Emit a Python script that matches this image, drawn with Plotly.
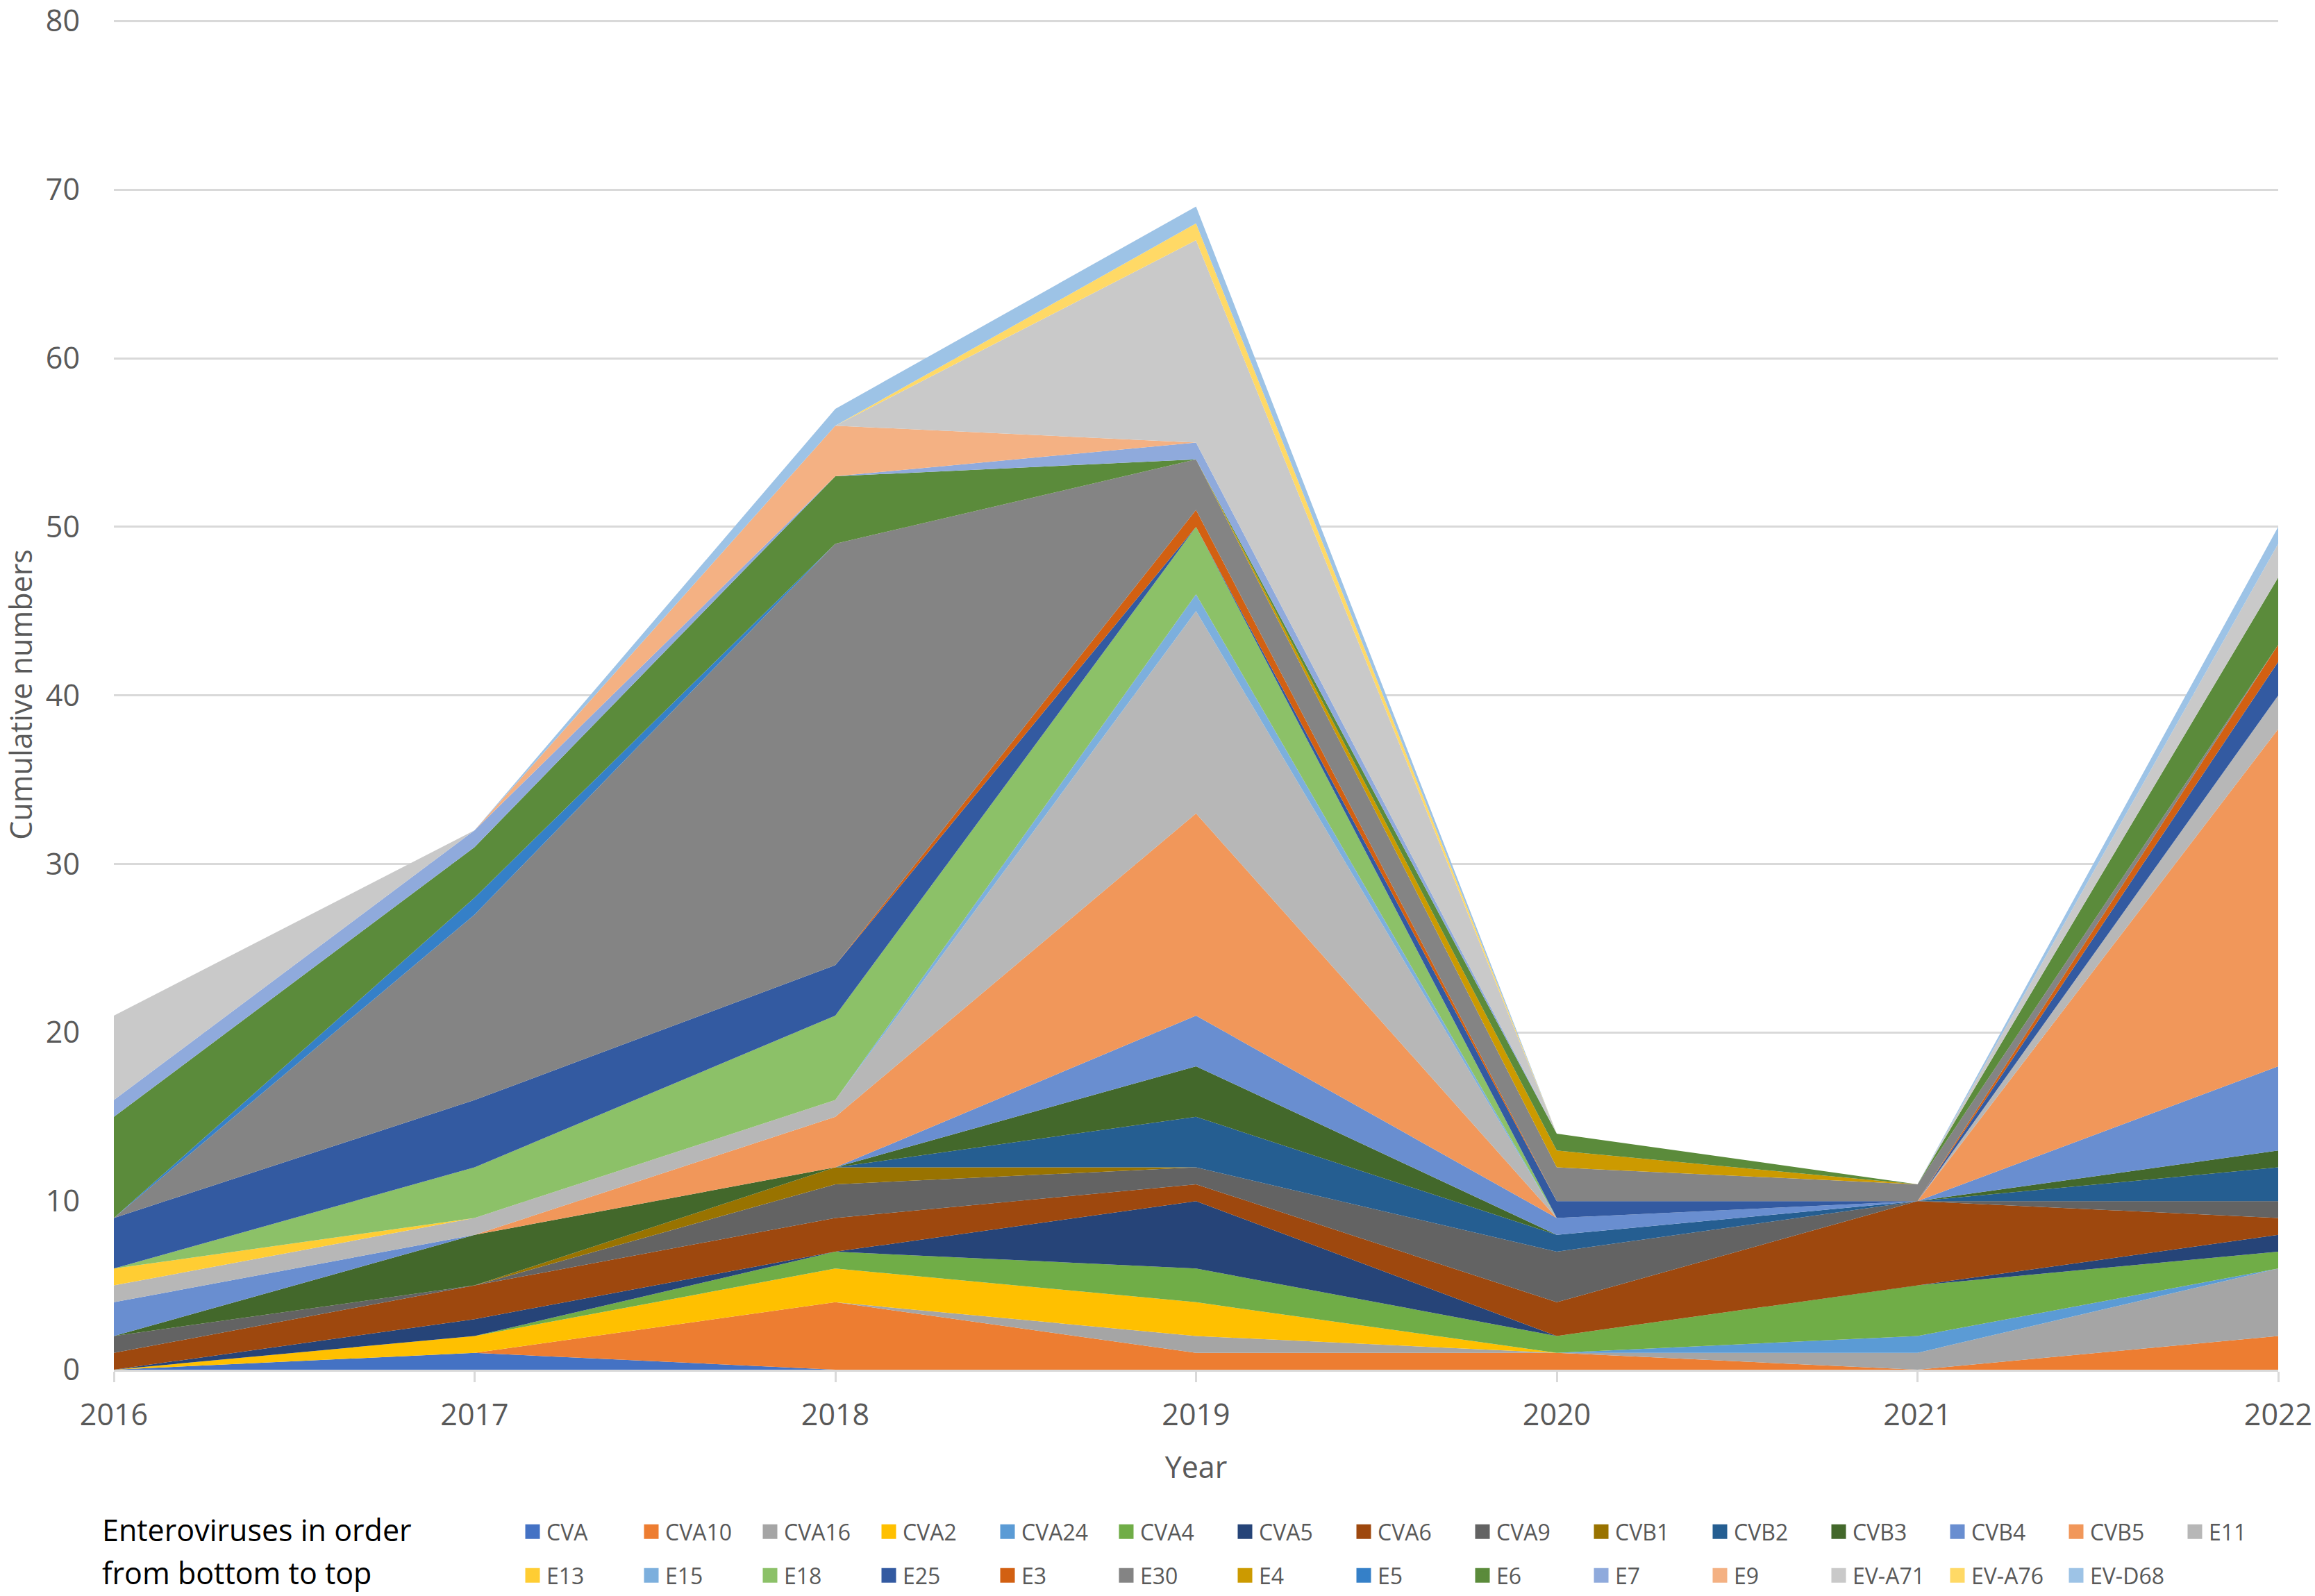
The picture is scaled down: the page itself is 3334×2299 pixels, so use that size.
import plotly.graph_objects as go

# ---------------- data ----------------
years = [2016, 2017, 2018, 2019, 2020, 2021, 2022]

cva    = [0, 1, 0, 0, 0, 0, 0]
cva10  = [0, 0, 4, 1, 1, 0, 2]
cva16  = [0, 0, 0, 1, 0, 1, 4]
cva2   = [0, 1, 2, 2, 0, 0, 0]
cva24  = [0, 0, 0, 0, 0, 1, 0]
cva4   = [0, 0, 1, 2, 1, 3, 1]
cva5   = [0, 1, 0, 4, 0, 0, 1]
cva6   = [1, 2, 2, 1, 2, 5, 1]
cva9   = [1, 0, 2, 1, 3, 0, 1]
cvb1   = [0, 0, 1, 0, 0, 0, 0]
cvb2   = [0, 0, 0, 3, 1, 0, 2]
cvb3   = [0, 3, 0, 3, 0, 0, 1]
cvb4   = [2, 0, 0, 3, 1, 0, 5]
cvb5   = [0, 0, 3, 12, 0, 0, 20]
e11    = [1, 1, 1, 12, 0, 0, 2]
e13    = [1, 0, 0, 0, 0, 0, 0]
e15    = [0, 0, 0, 1, 0, 0, 0]
e18    = [0, 3, 5, 4, 0, 0, 0]
e25    = [3, 4, 3, 0, 1, 0, 2]
e3     = [0, 0, 0, 1, 0, 0, 1]
e30    = [0, 11, 25, 3, 2, 1, 0]
e4     = [0, 0, 0, 0, 1, 0, 0]
e5     = [0, 1, 0, 0, 0, 0, 0]
e6     = [6, 3, 4, 0, 1, 0, 4]
e7     = [1, 1, 0, 1, 0, 0, 0]
e9     = [0, 0, 3, 0, 0, 0, 0]
ev_a71 = [5, 0, 0, 12, 0, 0, 2]
ev_a76 = [0, 0, 0, 1, 0, 0, 0]
ev_d68 = [0, 0, 1, 1, 0, 0, 1]

names = ["CVA", "CVA10", "CVA16", "CVA2", "CVA24", "CVA4", "CVA5", "CVA6", "CVA9",
         "CVB1", "CVB2", "CVB3", "CVB4", "CVB5", "E11",
         "E13", "E15", "E18", "E25", "E3", "E30", "E4", "E5", "E6", "E7", "E9",
         "EV-A71", "EV-A76", "EV-D68"]
values = [cva, cva10, cva16, cva2, cva24, cva4, cva5, cva6, cva9,
          cvb1, cvb2, cvb3, cvb4, cvb5, e11,
          e13, e15, e18, e25, e3, e30, e4, e5, e6, e7, e9,
          ev_a71, ev_a76, ev_d68]
colors = ["#4472C4", "#ED7D31", "#A5A5A5", "#FFC000", "#5B9BD5", "#70AD47",
          "#264478", "#9E480E", "#636363", "#997300", "#255E91", "#43682B",
          "#698ED0", "#F1975A", "#B7B7B7", "#FFCD33", "#7CAFDD", "#8CC168",
          "#335AA1", "#D26012", "#848484", "#CC9A00", "#3580C8", "#5B8B3B",
          "#8FAADC", "#F4B183", "#C9C9C9", "#FFD966", "#9DC3E6"]

# ---------------- geometry ----------------
W, H = 3334, 2299
ML, MR, MT, MB = 164, 53, 27.5, 326
PW, PH = W - ML - MR, H - MT - MB


def px_x(px):
    return (px - ML) / PW


def px_y(py):
    return (H - MB - py) / PH


FONT = "Open Sans"
GREY = "#595959"
GRID = "#D9D9D9"

fig = go.Figure()

for n, v, c in zip(names, values, colors):
    fig.add_trace(go.Scatter(
        x=years, y=v, name=n, mode="lines", stackgroup="one",
        line=dict(width=0, color=c), fillcolor=c, showlegend=False,
        hoverinfo="x+y+name"))

# legend entries (square swatches), split in two rows like the reference
for i, (n, c) in enumerate(zip(names, colors)):
    fig.add_trace(go.Scatter(
        x=[None], y=[None], mode="markers", name=n,
        marker=dict(symbol="square", size=16, color=c, line=dict(width=5, color=c)),
        legend="legend" if i < 15 else "legend2", showlegend=True,
        hoverinfo="skip"))

legend_common = dict(
    orientation="h", xref="paper", xanchor="left", yanchor="top",
    entrywidth=126, entrywidthmode="pixels", itemwidth=30,
    font=dict(family=FONT, size=32, color=GREY),
    bgcolor="rgba(0,0,0,0)", traceorder="normal",
)

fig.update_layout(
    width=W, height=H,
    margin=dict(l=ML, r=MR, t=MT, b=MB, autoexpand=False),
    paper_bgcolor="white", plot_bgcolor="white",
    font=dict(family=FONT, color=GREY, size=43),
    legend=dict(x=px_x(747), y=px_y(2179), **legend_common),
    legend2=dict(x=px_x(747), y=px_y(2242), **legend_common),
    xaxis=dict(
        range=[2016, 2022], tickvals=years, ticktext=[str(y) for y in years],
        ticks="outside", ticklen=15, tickwidth=3, tickcolor=GRID,
        showline=True, linecolor=GRID, linewidth=3,
        showgrid=False, zeroline=False,
        ticklabelstandoff=10,
        tickfont=dict(family=FONT, size=43, color=GREY),
        title=dict(text="Year", font=dict(family=FONT, size=43, color=GREY), standoff=35),
    ),
    yaxis=dict(
        range=[0, 80.1], tick0=0, dtick=10,
        showgrid=True, gridcolor=GRID, gridwidth=3,
        zeroline=False, showline=False, ticks="",
        ticklabelstandoff=48, ticklabeloverflow="allow",
        tickfont=dict(family=FONT, size=43, color=GREY),
        title=dict(text="Cumulative numbers", font=dict(family=FONT, size=43, color=GREY), standoff=38),
    ),
    annotations=[
        dict(text="Enteroviruses in order",
             xref="paper", yref="paper", x=px_x(145), y=px_y(2204),
             xanchor="left", yanchor="middle", align="left", showarrow=False,
             font=dict(family=FONT, size=43, color="black")),
        dict(text="from bottom to top",
             xref="paper", yref="paper", x=px_x(145), y=px_y(2266),
             xanchor="left", yanchor="middle", align="left", showarrow=False,
             font=dict(family=FONT, size=43, color="black")),
    ],
)

# remove the browser's default 8px body margin so the figure fills the window exactly
fig.write_html("out.html", config={"displayModeBar": False},
               post_script="document.body.style.margin='0';")
